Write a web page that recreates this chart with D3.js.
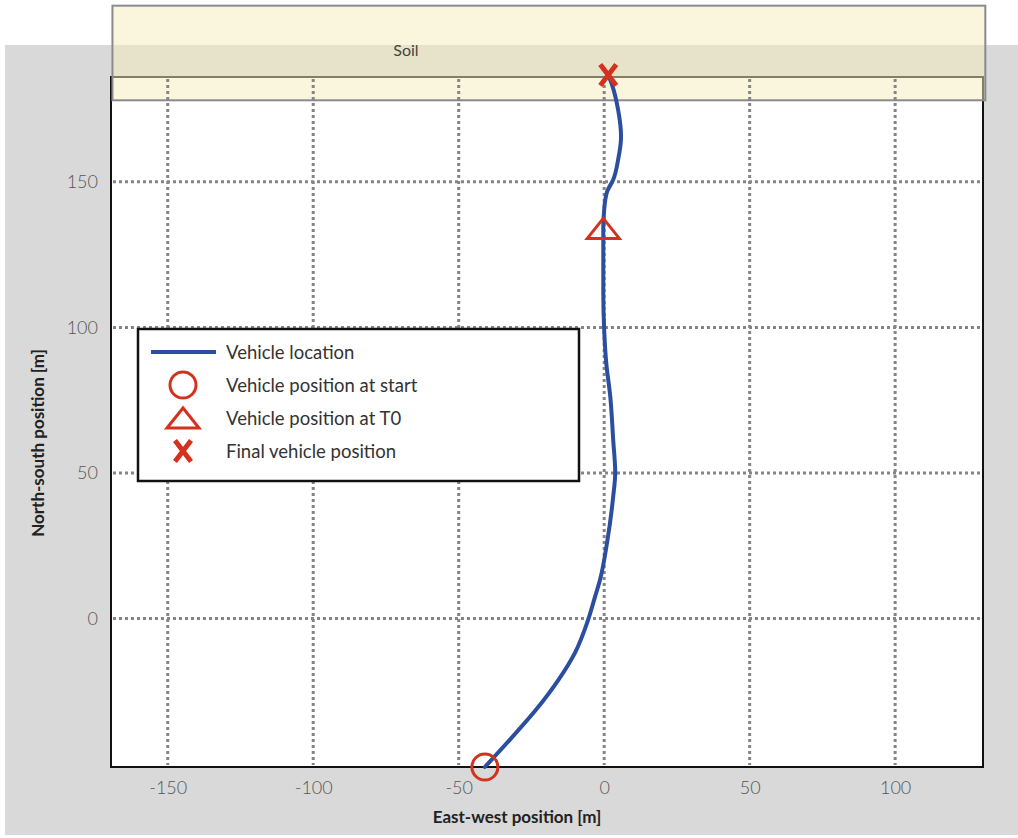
<!DOCTYPE html>
<html>
<head>
<meta charset="utf-8">
<script src="https://cdn.jsdelivr.net/npm/d3@7"></script>
<style>
  html, body { margin: 0; padding: 0; background: #fff; }
  svg { display: block; font-family: Lato, "Liberation Sans", Arial, sans-serif; }
</style>
</head>
<body>
<svg id="chart" width="1018" height="838"></svg>
<script>
// Vehicle track, east-west [m] / north-south [m]
const trackX = [-41, -32.3, -23.3, -15.6, -10.0, -5.7, -3.1, -1.4, 1.0, 3.1, 3.8, 3.1, 2.1, 0.7, 0, -0.3, -0.3, -0.3, 0, 1.0, 3.1, 4.8, 5.8, 4.8, 2.7, 1.4];
const trackY = [-51, -41.5, -31.2, -20.9, -11.7, -1.0, 7.6, 13.4, 26.1, 41.9, 50.1, 61.4, 76.2, 87.9, 99.2, 111.9, 129.1, 134, 140.4, 146.6, 150.7, 157.6, 165.5, 174.7, 183.3, 186.7];

// Key positions along the track
const startPos = [-41, -51];
const t0Pos = [-0.3, 134];
const finalPos = [1.4, 186.7];

// Soil band extent
const soilX = [-169, 131];
const soilY = [178, 210.5];

const xTicks = [-150, -100, -50, 0, 50, 100];
const yTicks = [0, 50, 100, 150];

const legendLabels = ["Vehicle location", "Vehicle position at start", "Vehicle position at T0", "Final vehicle position"];

const BLUE = "#2b4e9f";
const RED = "#d4321e";

const svg = d3.select("#chart");

// panel background
svg.append("rect").attr("x", 5).attr("y", 45).attr("width", 1013).attr("height", 790).attr("fill", "#d9d9d9");

const plot = { left: 111, right: 983, top: 77, bottom: 767 };
const x = d3.scaleLinear().domain([-169.5, 130.2]).range([plot.left, plot.right]);
const y = d3.scaleLinear().domain([-51, 186]).range([plot.bottom, plot.top]);

// plot area
svg.append("rect")
  .attr("x", plot.left).attr("y", plot.top)
  .attr("width", plot.right - plot.left).attr("height", plot.bottom - plot.top)
  .attr("fill", "#fff");

// axis frame
svg.append("rect")
  .attr("x", plot.left).attr("y", plot.top)
  .attr("width", plot.right - plot.left).attr("height", plot.bottom - plot.top)
  .attr("fill", "none").attr("stroke", "#111").attr("stroke-width", 2);

// soil band (translucent, over the top of the frame)
svg.append("rect")
  .attr("x", x(soilX[0])).attr("y", y(soilY[1]))
  .attr("width", x(soilX[1]) - x(soilX[0])).attr("height", y(soilY[0]) - y(soilY[1]))
  .attr("fill", "rgb(245,238,190)").attr("fill-opacity", 0.5)
  .attr("stroke", "#8a8a8a").attr("stroke-width", 2);
svg.append("text").attr("x", 406).attr("y", 56).attr("text-anchor", "middle")
  .attr("font-size", 16).attr("fill", "#444").text("Soil");

// dotted grid
const grid = svg.append("g").attr("stroke", "#858585").attr("stroke-width", 3).attr("stroke-dasharray", "3,3");
grid.selectAll("line.vx").data(xTicks).join("line")
  .attr("x1", d => x(d)).attr("x2", d => x(d))
  .attr("y1", plot.top + 2).attr("y2", plot.bottom - 2);
grid.selectAll("line.hy").data(yTicks).join("line")
  .attr("y1", d => y(d)).attr("y2", d => y(d))
  .attr("x1", plot.left + 2).attr("x2", plot.right - 1);

// tick labels via d3 axes
const fmt = d => String(d);
const xAxis = svg.append("g").attr("transform", `translate(0,${plot.bottom})`)
  .call(d3.axisBottom(x).tickValues(xTicks).tickSize(0).tickPadding(14).tickFormat(fmt));
const yAxis = svg.append("g").attr("transform", `translate(${plot.left},0)`)
  .call(d3.axisLeft(y).tickValues(yTicks).tickSize(0).tickPadding(13).tickFormat(fmt));
[xAxis, yAxis].forEach(a => {
  a.select(".domain").remove();
  a.selectAll("text").attr("font-size", 18).attr("fill", "#555").attr("font-family", "Lato, sans-serif").attr("font-weight", 300);
});
xAxis.selectAll("text").attr("dy", "0.71em");

// axis titles
svg.append("text").attr("x", 517).attr("y", 823).attr("text-anchor", "middle")
  .attr("font-size", 17).attr("font-weight", "bold").attr("fill", "#222")
  .text("East-west position [m]");
svg.append("text").attr("transform", "translate(44,443) rotate(-90)").attr("text-anchor", "middle")
  .attr("font-size", 17).attr("font-weight", "bold").attr("fill", "#222")
  .text("North-south position [m]");

// vehicle track (monotone in the north-south direction)
const line = d3.line().x(d => x(d[0])).y(d => y(d[1])).curve(d3.curveMonotoneY);
svg.append("path").datum(d3.zip(trackX, trackY))
  .attr("d", line).attr("fill", "none").attr("stroke", BLUE).attr("stroke-width", 4).attr("stroke-linecap", "round");

// marker shapes
function circleMark(g, cx, cy) {
  g.append("circle").attr("cx", cx).attr("cy", cy).attr("r", 13)
    .attr("fill", "none").attr("stroke", RED).attr("stroke-width", 3);
}
function triMark(g, cx, cy) {
  const w = 16, h = 10;
  g.append("path").attr("d", `M${cx - w},${cy + h}L${cx},${cy - h}L${cx + w},${cy + h}Z`)
    .attr("fill", "none").attr("stroke", RED).attr("stroke-width", 3).attr("stroke-linejoin", "miter");
}
function xMark(g, cx, cy) {
  const sx = 8, sy = 10.5;
  g.append("path").attr("d", `M${cx - sx},${cy - sy}L${cx + sx},${cy + sy}M${cx + sx},${cy - sy}L${cx - sx},${cy + sy}`)
    .attr("fill", "none").attr("stroke", RED).attr("stroke-width", 5);
}

const marks = svg.append("g");
circleMark(marks, x(startPos[0]), y(startPos[1]));
triMark(marks, x(t0Pos[0]), y(t0Pos[1]));
xMark(marks, x(finalPos[0]), y(finalPos[1]));

// legend
const lg = svg.append("g");
lg.append("rect").attr("x", 138).attr("y", 329).attr("width", 441).attr("height", 152)
  .attr("fill", "#fff").attr("stroke", "#111").attr("stroke-width", 2.5);
const rowY = [352, 385, 418, 451];
lg.append("line").attr("x1", 151).attr("x2", 216).attr("y1", rowY[0]).attr("y2", rowY[0])
  .attr("stroke", BLUE).attr("stroke-width", 4);
circleMark(lg, 183, rowY[1]);
triMark(lg, 183, rowY[2]);
xMark(lg, 183, rowY[3]);
lg.selectAll("text.lbl").data(legendLabels).join("text")
  .attr("class", "lbl")
  .attr("x", 226).attr("y", (d, i) => rowY[i]).attr("dy", "0.36em")
  .attr("font-size", 18.5).attr("fill", "#333").text(d => d);
</script>
</body>
</html>
